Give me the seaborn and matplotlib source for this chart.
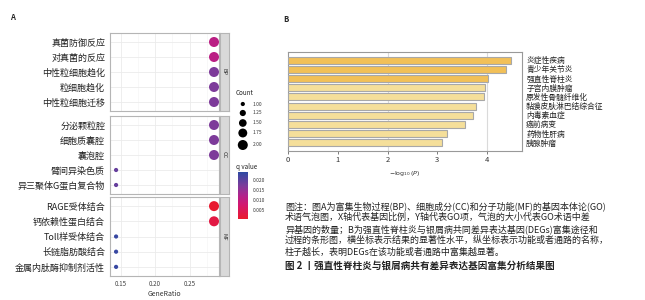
import numpy as np
import pandas as pd
import matplotlib
matplotlib.use("Agg")
import matplotlib.pyplot as plt
import seaborn as sns
from matplotlib.colors import LinearSegmentedColormap, Normalize
from matplotlib.ticker import MultipleLocator
import matplotlib as mpl

# ---------------- data ----------------
bp_terms = ["真菌防御反应", "对真菌的反应", "中性粒细胞趋化", "粒细胞趋化", "中性粒细胞迁移"]
bp_count = [2, 2, 2, 2, 2]
bp_q = [0.011, 0.011, 0.017, 0.017, 0.017]

cc_terms = ["分泌颗粒腔", "细胞质囊腔", "囊泡腔", "臂间异染色质", "异三聚体G蛋白复合物"]
cc_count = [2, 2, 2, 1, 1]
cc_q = [0.017, 0.017, 0.017, 0.019, 0.019]

mf_terms = ["RAGE受体结合", "钙依赖性蛋白结合", "Toll样受体结合", "长链脂肪酸结合", "金属内肽酶抑制剂活性"]
mf_count = [2, 2, 1, 1, 1]
mf_q = [0.001, 0.003, 0.023, 0.023, 0.023]

total_genes = 7
ontologies = ["BP", "CC", "MF"]

size_levels = [1.00, 1.25, 1.50, 1.75, 2.00]
q_ticks = [0.005, 0.010, 0.015, 0.020]
x_ticks_a = [0.15, 0.20, 0.25]

b_terms = ["炎症性疾病", "青少年关节炎", "强直性脊柱炎", "子宫内膜肿瘤", "原发性骨髓纤维化",
           "黏膜皮肤淋巴结综合征", "内毒素血症", "癌前病变", "药物性肝病", "胰腺肿瘤"]
b_values = [4.48, 4.38, 4.02, 3.96, 3.93, 3.78, 3.72, 3.55, 3.20, 3.10]
b_group = ["top", "top", "top", "rest", "rest", "rest", "rest", "rest", "rest", "rest"]
b_xticks = [0, 1, 2, 3, 4]

caption_lines = [
    "图注：图A为富集生物过程(BP)、细胞成分(CC)和分子功能(MF)的基因本体论(GO)",
    "术语气泡图，X轴代表基因比例，Y轴代表GO项，气泡的大小代表GO术语中差",
    "异基因的数量；B为强直性脊柱炎与银屑病共同差异表达基因(DEGs)富集途径和",
    "过程的条形图，横坐标表示结果的显著性水平，纵坐标表示功能或者通路的名称，",
    "柱子越长，表明DEGs在该功能或者通路中富集越显著。",
]
caption_title = "图 2 丨强直性脊柱炎与银屑病共有差异表达基因富集分析结果图"

# ---------------- style ----------------
sns.set_style("white")
plt.rcParams["font.family"] = ["Noto Sans CJK SC", "DejaVu Sans"]

W, H = 645, 300
fig = plt.figure(figsize=(W / 100, H / 100), dpi=100)


def fbox(x0, y0, x1, y1):
    return [x0 / W, 1 - y1 / H, (x1 - x0) / W, (y1 - y0) / H]


cmap = LinearSegmentedColormap.from_list(
    "rb", [(0.0, "#EA1A2C"), (0.3, "#D3166F"), (0.5, "#B1228C"),
           (0.7, "#7E3B9A"), (1.0, "#2D4AA3")])
vmin, vmax = 0.0005, 0.024

def px_to_s(d):
    return (d * 0.72) ** 2

s_small, s_big = px_to_s(4.2), px_to_s(10)

frames = []
for ont, terms, cnt, q in [("BP", bp_terms, bp_count, bp_q),
                           ("CC", cc_terms, cc_count, cc_q),
                           ("MF", mf_terms, mf_count, mf_q)]:
    frames.append(pd.DataFrame({"Description": terms, "Count": cnt,
                                "qvalue": q, "ONTOLOGY": ont}))
df = pd.concat(frames, ignore_index=True)
df["GeneRatio"] = df["Count"] / total_genes

panel_y = [(33, 111), (116, 194), (197, 276)]
grey_border = "#B5B5B5"
for i, (ont, (y0, y1)) in enumerate(zip(ontologies, panel_y)):
    ax = fig.add_axes(fbox(110, y0, 219, y1))
    sub = df[df["ONTOLOGY"] == ont]
    sns.scatterplot(data=sub, x="GeneRatio", y="Description", hue="qvalue",
                    size="Count", sizes=(s_small, s_big), size_norm=(1, 2),
                    hue_norm=(vmin, vmax), palette=cmap, legend=False,
                    edgecolor="none", linewidth=0, ax=ax, zorder=3)
    ax.set_xlim(0.134, 0.293)
    ax.set_ylim(4.6, -0.6)
    ax.xaxis.set_major_locator(MultipleLocator(0.05))
    ax.xaxis.set_minor_locator(MultipleLocator(0.025))
    ax.grid(which="major", color="#EBEBEB", linewidth=0.6, zorder=0)
    ax.grid(which="minor", axis="x", color="#F4F4F4", linewidth=0.4, zorder=0)
    ax.set_axisbelow(True)
    for sp in ax.spines.values():
        sp.set_color(grey_border)
        sp.set_linewidth(0.8)
    ax.set_ylabel("")
    ax.tick_params(axis="y", labelsize=6.5, length=2, width=0.5, color="#555555",
                   pad=1.5, labelcolor="#222222")
    if i < 2:
        ax.set_xlabel("")
        ax.tick_params(axis="x", labelbottom=False, length=0)
    else:
        ax.set_xticks(x_ticks_a)
        ax.set_xticklabels([f"{v:.2f}" for v in x_ticks_a])
        ax.tick_params(axis="x", labelsize=4.5, length=2, width=0.5,
                       color="#555555", labelcolor="#444444", pad=1)
        ax.set_xlabel("GeneRatio", fontsize=5, color="#333333", labelpad=1)
    # strip
    sax = fig.add_axes(fbox(219.5, y0, 229, y1))
    sax.set_facecolor("#D9D9D9")
    sax.set_xticks([])
    sax.set_yticks([])
    for sp in sax.spines.values():
        sp.set_color(grey_border)
        sp.set_linewidth(0.8)
    sax.text(0.5, 0.5, ont, rotation=-90, ha="center", va="center",
             fontsize=4, color="#333333", transform=sax.transAxes)

# Count legend
fig.text(236 / W, 1 - 93 / H, "Count", fontsize=4.5, va="center", ha="left", color="#222222")
lax = fig.add_axes(fbox(236, 98, 270, 152))
lax.set_xlim(0, 1)
lax.set_ylim(152, 98)
lax.axis("off")
leg_y = [104, 113, 123, 133, 145]
leg_s = [s_small + (s_big - s_small) * (v - 1) for v in size_levels]
lax.scatter([0.2] * 5, leg_y, s=leg_s, color="black", edgecolor="none")
for yy, v in zip(leg_y, size_levels):
    lax.text(0.5, yy, f"{v:.2f}", fontsize=3.5, va="center", ha="left", color="#333333")

# q value colorbar
fig.text(236 / W, 1 - 167 / H, "q value", fontsize=4.5, va="center", ha="left", color="#222222")
cax = fig.add_axes(fbox(238, 172, 248, 219))
cb = mpl.colorbar.ColorbarBase(cax, cmap=cmap, norm=Normalize(vmin, vmax), orientation="vertical")
cb.set_ticks(q_ticks)
cb.set_ticklabels([f"{v:.3f}" for v in q_ticks])
cb.outline.set_visible(False)
cax.tick_params(labelsize=3.5, length=2, width=0.5, color="white", pad=1.5, labelcolor="#333333")

# ---------------- panel B ----------------
bdf = pd.DataFrame({"term": b_terms, "value": b_values, "group": b_group})
bax = fig.add_axes(fbox(288, 52, 522, 151))
sns.barplot(data=bdf, x="value", y="term", hue="group", orient="h",
            palette={"top": "#F2C058", "rest": "#F5DF9A"}, dodge=False,
            saturation=1, width=0.78, edgecolor="#A8A8A8", linewidth=0.8,
            legend=False, ax=bax, zorder=3)
bax.set_xlim(0, 4.70)
bax.set_ylim(9.9, -0.9)
for gx in [2, 4]:
    bax.axvline(gx, color="#DADADA", linewidth=0.8, zorder=0)
bax.set_xticks(b_xticks)
bax.set_xticklabels([str(v) for v in b_xticks])
bax.yaxis.tick_right()
bax.tick_params(axis="y", labelsize=5.6, length=0, pad=3, labelcolor="#222222")
bax.tick_params(axis="x", labelsize=5.5, length=2, width=0.6, color="#666666",
                pad=1.5, labelcolor="#333333", bottom=True)
bax.set_ylabel("")
bax.set_xlabel(r"$-\log_{10}(P)$", fontsize=4.5, color="#333333", labelpad=4)
for sp in bax.spines.values():
    sp.set_color("#999999")
    sp.set_linewidth(0.8)

# ---------------- panel labels & caption ----------------
fig.text(10 / W, 1 - 18 / H, "A", fontsize=5.5, fontweight="bold", va="center")
fig.text(283 / W, 1 - 19 / H, "B", fontsize=5.5, fontweight="bold", va="center")

cap_y = [206, 217.5, 229, 240.5, 252]
for yy, line in zip(cap_y, caption_lines):
    fig.text(285 / W, 1 - yy / H, line, fontsize=6.5, va="center", ha="left", color="#222222")
fig.text(285 / W, 1 - 266 / H, caption_title, fontsize=6.9, va="center", ha="left",
         fontweight="bold", color="#222222")

fig.savefig("out.png", dpi=100)
